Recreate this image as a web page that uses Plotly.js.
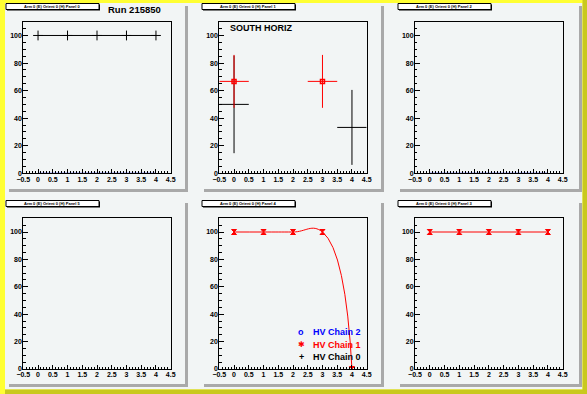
<!DOCTYPE html>
<html><head><meta charset="utf-8">
<script src="https://cdn.plot.ly/plotly-3.0.1.min.js"></script>
<style>html,body{margin:0;padding:0;background:#ffff33;}#c{width:587px;height:394px;}</style>
</head><body><div id="c"></div>
<script>
// ---- data ----
const xPoints = [0, 1, 2, 3, 4];
const panel0Chain0 = [100, 100, 100, 100, 100];
const chain2Zero = [0, 0, 0, 0, 0];
const panel1RedX = [0, 3];
const panel1RedY = [66.7, 66.7];
const panel1RedErr = [19.2, 19.2];
const panel1BlackX = [0, 4];
const panel1BlackY = [50, 33.3];
const panel1BlackErr = [35.4, 27.2];
const panel1XErr = [0.5, 0.5];
const panel4Chain1 = [100, 100, 100, 100, 0];
const panel3Chain1 = [100, 100, 100, 100, 100];
const panelTitles = ['Arm 0 (E) Orient 0 (H) Panel 0', 'Arm 0 (E) Orient 0 (H) Panel 1', 'Arm 0 (E) Orient 0 (H) Panel 2',
                     'Arm 0 (E) Orient 0 (H) Panel 5', 'Arm 0 (E) Orient 0 (H) Panel 4', 'Arm 0 (E) Orient 0 (H) Panel 3'];
const legendLabels = ['HV Chain 2', 'HV Chain 1', 'HV Chain 0'];
const legendColors = ['#0000ff', '#ff0000', '#000000'];
const legendSymbols = ['o', '✱', '+'];
const runLabel = 'Run 215850';
const panel1Label = 'SOUTH HORIZ';

// ---- geometry helpers ----
const W = 587, H = 394;
const px = x => x / W, py = y => 1 - y / H;
const colFrames = [[23.3, 170.7], [219.3, 366.7], [415, 562.7]];
const rowFrames = [[21.7, 173.3], [218.3, 369]];
const padCols = [[6, 188], [201, 384], [397, 582]];
const padRows = [[3, 192], [200, 387]];
const titleCols = [[6, 99], [202, 295], [398, 491]];
const titleRows = [[3.5, 9.5], [200.5, 206.5]];

const FONT = 'Liberation Sans, Arial, sans-serif';
const RED = '#ff0000', BLUE = '#0000ff', BLACK = '#000000';

const layout = {
  width: W, height: H,
  margin: {l: 0, r: 0, t: 0, b: 0},
  paper_bgcolor: '#ffff33',
  plot_bgcolor: 'rgba(0,0,0,0)',
  showlegend: false,
  font: {family: FONT, color: BLACK},
  shapes: [], annotations: []
};

function axisCommon(isX) {
  const a = {
    showline: true, mirror: true, linecolor: BLACK, linewidth: 1,
    ticks: 'inside', ticklen: 4.5, tickwidth: 1, tickcolor: BLACK,
    showgrid: false, zeroline: false, fixedrange: true,
    tickfont: {family: FONT, size: 7, weight: 'bold', color: BLACK},
    minor: {ticks: 'inside', ticklen: 2.3, tickcolor: BLACK, tickwidth: 1, showgrid: false}
  };
  if (isX) {
    a.range = [-0.5, 4.5]; a.tickmode = 'linear'; a.tick0 = -0.5; a.dtick = 0.5;
    a.minor.dtick = 0.1; a.minor.tick0 = 0;
    a.ticklabelstandoff = -1;
  } else {
    a.range = [0, 110]; a.tickmode = 'linear'; a.tick0 = 0; a.dtick = 20;
    a.minor.dtick = 5; a.minor.tick0 = 0;
    a.ticklabelstandoff = -1;
    a.ticklabelshift = 1.5;
  }
  return a;
}

// background pale region with darker yellow right/bottom border
layout.shapes.push({type: 'rect', xref: 'paper', yref: 'paper', layer: 'below',
  x0: px(5), x1: px(582.5), y0: py(3), y1: py(389.5), fillcolor: '#f2f5f5', line: {width: 0}});
layout.shapes.push({type: 'rect', xref: 'paper', yref: 'paper', layer: 'below',
  x0: px(582.5), x1: px(587), y0: py(0), y1: py(394), fillcolor: '#c9c91e', line: {width: 0}});
layout.shapes.push({type: 'rect', xref: 'paper', yref: 'paper', layer: 'below',
  x0: px(5), x1: px(587), y0: py(389.5), y1: py(394), fillcolor: '#c9c91e', line: {width: 0}});

for (let r = 0; r < 2; r++) {
  for (let c = 0; c < 3; c++) {
    const i = r * 3 + c;
    const sfx = i === 0 ? '' : String(i + 1);
    const xa = axisCommon(true), ya = axisCommon(false);
    xa.domain = [px(colFrames[c][0]), px(colFrames[c][1])];
    ya.domain = [py(rowFrames[r][1]), py(rowFrames[r][0])];
    xa.anchor = 'y' + sfx; ya.anchor = 'x' + sfx;
    layout['xaxis' + sfx] = xa; layout['yaxis' + sfx] = ya;
    // pad shadow (right and bottom)
    const [pl, pr] = padCols[c], [pt, pb] = padRows[r];
    layout.shapes.push({type: 'rect', xref: 'paper', yref: 'paper', layer: 'below',
      x0: px(pr - 3), x1: px(pr), y0: py(pb), y1: py(pt + 3), fillcolor: '#a9a9a9', line: {width: 0}});
    layout.shapes.push({type: 'rect', xref: 'paper', yref: 'paper', layer: 'below',
      x0: px(pl + 3), x1: px(pr), y0: py(pb), y1: py(pb - 3), fillcolor: '#a9a9a9', line: {width: 0}});
    // title box
    const [tl, tr] = titleCols[c], [tt, tb] = titleRows[r];
    layout.shapes.push({type: 'rect', xref: 'paper', yref: 'paper',
      x0: px(tl + 1), x1: px(tr + 1), y0: py(tb + 1), y1: py(tt + 1), fillcolor: BLACK, line: {width: 0}});
    layout.shapes.push({type: 'rect', xref: 'paper', yref: 'paper',
      x0: px(tl), x1: px(tr), y0: py(tb), y1: py(tt), fillcolor: '#ffffff', line: {color: BLACK, width: 1}});
    layout.annotations.push({xref: 'paper', yref: 'paper', x: px((tl + tr) / 2), y: py((tt + tb) / 2),
      text: panelTitles[i], showarrow: false, xanchor: 'center', yanchor: 'middle',
      font: {family: FONT, size: 4, weight: 'bold', color: BLACK}});
  }
}

layout.annotations.push({xref: 'paper', yref: 'paper', x: px(106), y: py(9), xanchor: 'left', yanchor: 'middle',
  text: '<b>' + runLabel + '</b>', showarrow: false, font: {family: FONT, size: 9.5, color: BLACK}});
layout.annotations.push({xref: 'paper', yref: 'paper', x: px(228), y: py(27.7), xanchor: 'left', yanchor: 'middle',
  text: '<b>' + panel1Label + '</b>', showarrow: false, font: {family: FONT, size: 9, color: BLACK}});

// legend (bottom-middle pad)
const legY = [331.7, 344.7, 357.2];
legendLabels.forEach((lab, k) => {
  layout.annotations.push({xref: 'paper', yref: 'paper', x: px(301), y: py(legY[k]), xanchor: 'center', yanchor: 'middle',
    text: '<b>' + legendSymbols[k] + '</b>', showarrow: false,
    font: {family: k === 1 ? 'DejaVu Sans' : FONT, size: k === 1 ? 8 : 9, color: legendColors[k]}});
  layout.annotations.push({xref: 'paper', yref: 'paper', x: px(311), y: py(legY[k]), xanchor: 'left', yanchor: 'middle',
    text: '<b>' + lab + '</b>', showarrow: false, font: {family: FONT, size: 9, color: legendColors[k]}});
});

const redMarker = {symbol: 'hourglass', size: 5, color: RED, line: {color: RED, width: 1}};
const blackCross = {symbol: 'cross-thin-open', size: 7, color: BLACK, line: {color: BLACK, width: 1}};

const traces = [
  // Panel 0
  {x: xPoints, y: chain2Zero, xaxis: 'x', yaxis: 'y', mode: 'lines', line: {color: BLUE, width: 1}},
  {x: xPoints, y: panel0Chain0, xaxis: 'x', yaxis: 'y', mode: 'lines+markers', line: {color: BLACK, width: 1}, marker: blackCross},
  // Panel 1
  {x: panel1BlackX, y: panel1BlackY, xaxis: 'x2', yaxis: 'y2', mode: 'markers', marker: {size: 1, color: BLACK},
   error_y: {type: 'data', array: panel1BlackErr, color: BLACK, thickness: 1, width: 0},
   error_x: {type: 'data', array: panel1XErr, color: BLACK, thickness: 1, width: 0}},
  {x: panel1RedX, y: panel1RedY, xaxis: 'x2', yaxis: 'y2', mode: 'markers', marker: {symbol: 'square-open', size: 4, color: RED, line: {color: RED, width: 1.5}},
   error_y: {type: 'data', array: panel1RedErr, color: RED, thickness: 1, width: 0},
   error_x: {type: 'data', array: panel1XErr, color: RED, thickness: 1, width: 0}},
  // Panel 2
  {x: xPoints, y: chain2Zero, xaxis: 'x3', yaxis: 'y3', mode: 'lines', line: {color: BLUE, width: 1}},
  // Panel 5 (bottom left) - no data, axes only
  {x: [], y: [], xaxis: 'x4', yaxis: 'y4', mode: 'markers'},
  // Panel 4 (bottom middle)
  {x: xPoints, y: panel4Chain1, xaxis: 'x5', yaxis: 'y5', mode: 'lines+markers', line: {color: RED, width: 1, shape: 'spline', smoothing: 1.3}, marker: redMarker},
  // Panel 3 (bottom right)
  {x: xPoints, y: panel3Chain1, xaxis: 'x6', yaxis: 'y6', mode: 'lines+markers', line: {color: RED, width: 1}, marker: redMarker}
];

Plotly.newPlot('c', traces, layout, {staticPlot: true, displayModeBar: false});
</script></body></html>
